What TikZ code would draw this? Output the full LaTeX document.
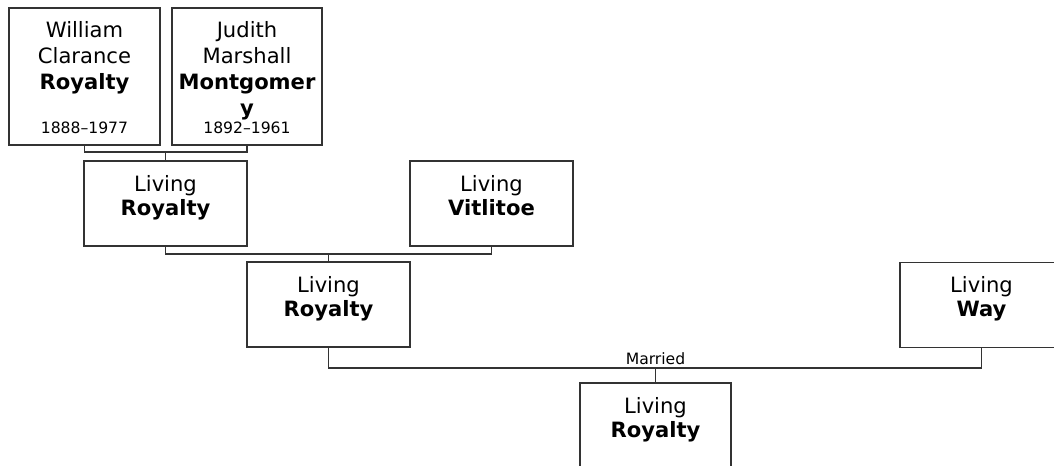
\documentclass[tikz,border=0pt]{standalone}
\usepackage{fontspec}
\setmainfont{DejaVu Sans}

\begin{document}
\begin{tikzpicture}[x=0.025cm, y=-0.025cm,
  tallbox/.style={draw=black!80, line width=0.9pt, fill=white, minimum height=3.425cm, inner sep=0pt},
  person/.style={draw=black!80, line width=0.9pt, fill=white, minimum width=4.075cm, minimum height=2.125cm, inner sep=0pt},
  pname/.style={font=\fontsize{15}{17}\selectfont, align=center, anchor=north, inner sep=0pt},
  tallname/.style={pname, font=\fontsize{15}{18.5}\selectfont},
  years/.style={font=\fontsize{11.1}{13}\selectfont, anchor=base, inner sep=0pt},
  link/.style={draw=black!80, line width=0.9pt}]
\useasboundingbox (0,0) rectangle (1054,466);
\clip (0,0) rectangle (1054,466);
% ---- grandparents ----
\node[tallbox, minimum width=3.775cm] (wc) at (84.5,76.5) {};
\node[tallname] (wc-n) at (84.5,21) {William\\Clarance\\\textbf{Royalty}};
\node[years] (wc-y) at (84.5,134) {1888–1977};
\node[tallbox, minimum width=3.75cm] (jm) at (247,76.5) {};
\node[tallname] (jm-n) at (247,21) {Judith\\Marshall\\\textbf{Montgomer}\\\textbf{y}};
\node[years] (jm-y) at (247,134) {1892–1961};
% ---- parents ----
\node[person] (lr1) at (165.5,203.5) {};
\node[pname] (lr1-n) at (165.5,175) {Living\\\textbf{Royalty}};
\node[person] (lv) at (491.5,203.5) {};
\node[pname] (lv-n) at (491.5,175) {Living\\\textbf{Vitlitoe}};
% ---- couple ----
\node[person] (lr2) at (328.5,304.5) {};
\node[pname] (lr2-n) at (328.5,276) {Living\\\textbf{Royalty}};
\node[person] (lw) at (981.5,305) {};
\node[pname] (lw-n) at (981.5,276) {Living\\\textbf{Way}};
% ---- child ----
\node[person, minimum width=3.775cm] (lr3) at (655.5,425.5) {};
\node[pname] (lr3-n) at (655.5,397) {Living\\\textbf{Royalty}};
% ---- family links ----
\coordinate (j1) at (165.5,152);
\draw[link] (wc.south) |- (j1) -| (jm.south);
\draw[link] (j1) -- (lr1.north);
\coordinate (j2) at (328.5,254);
\draw[link] (lr1.south) |- (j2) -| (lv.south);
\draw[link] (j2) -- (lr2.north);
\coordinate (j3) at (655.5,368);
\draw[link] (lr2.south) |- (j3) -| (lw.south);
\draw[link] (j3) -- (lr3.north);
\node[years] (mar) at (655.5,364.5) {Married};
\end{tikzpicture}
\end{document}
